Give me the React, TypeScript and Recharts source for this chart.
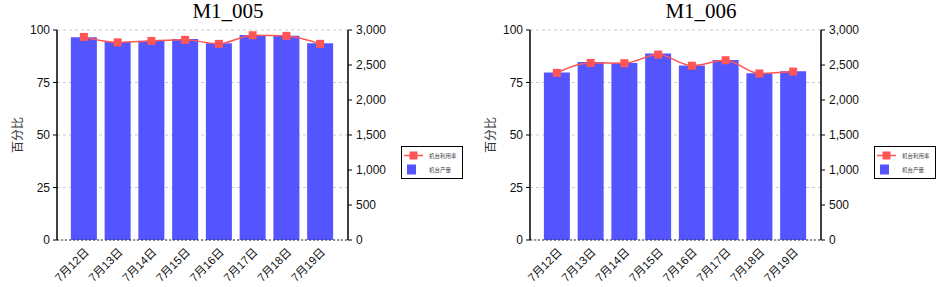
import React from 'react';
import { ComposedChart, Bar, Line, XAxis, YAxis, CartesianGrid, Legend } from 'recharts';

const categories = ['7月12日', '7月13日', '7月14日', '7月15日', '7月16日', '7月17日', '7月18日', '7月19日'];
const leftTicks = [0, 25, 50, 75, 100];
const rightTicks = [0, 500, 1000, 1500, 2000, 2500, 3000];

const m005Output = [2896, 2829, 2848, 2872, 2810, 2929, 2919, 2810];
const m005Rate = [96.7, 94.1, 94.8, 95.3, 93.4, 97.5, 97.2, 93.4];
const m006Output = [2392, 2544, 2530, 2663, 2492, 2573, 2383, 2411];
const m006Rate = [79.6, 84.3, 84.2, 88.3, 83.0, 85.6, 79.3, 80.2];

const BAR_COLOR = '#5555ff';
const LINE_COLOR = '#ff5555';

const buildRows = (output: number[], rate: number[]) =>
  categories.map((c, i) => ({ day: c, output: output[i], rate: rate[i] }));

const SquareDot = (props: any) => {
  const { cx, cy, index } = props;
  if (cx == null || cy == null) return null;
  return <rect key={`d${index}`} x={cx - 4} y={cy - 4} width={8} height={8} fill={LINE_COLOR} />;
};

const LegendBox = () => (
  <div
    style={{
      width: 60,
      height: 31,
      border: '1px solid #000',
      background: '#fff',
      boxSizing: 'content-box',
      fontFamily: '"Noto Sans CJK SC", sans-serif',
      fontSize: 5.5,
      color: '#444',
      position: 'relative',
    }}
  >
    <svg width={60} height={31} style={{ position: 'absolute', left: 0, top: 0 }}>
      <line x1={2} y1={8.5} x2={21} y2={8.5} stroke={LINE_COLOR} strokeWidth={1.5} />
      <rect x={7.5} y={4.5} width={8} height={8} fill={LINE_COLOR} />
      <text x={27} y={10.5} fontSize={5.5} fill="#444">机台利用率</text>
      <rect x={5} y={17.5} width={9} height={10} fill={BAR_COLOR} />
      <text x={27} y={24.5} fontSize={5.5} fill="#444">机台产量</text>
    </svg>
  </div>
);

const YLabel = (props: any) => {
  const vb = props.viewBox || {};
  const cy = (vb.y || 0) + (vb.height || 0) / 2;
  return (
    <text
      x={16}
      y={cy}
      transform={`rotate(-90, 16, ${cy})`}
      textAnchor="middle"
      dominantBaseline="central"
      fontSize={12}
      fill="#333"
      fontFamily='"Noto Sans CJK SC", sans-serif'
    >
      百分比
    </text>
  );
};

const tickStyle = { fontSize: 12, fill: '#111', fontFamily: '"Liberation Sans", Arial, sans-serif' };

const MachineChart = ({ title, output, rate }: { title: string; output: number[]; rate: number[] }) => {
  const data = buildRows(output, rate);
  return (
    <div style={{ position: 'relative', width: 470, height: 287 }}>
      <div
        style={{
          position: 'absolute',
          left: 0,
          top: 1,
          width: 456,
          textAlign: 'center',
          fontFamily: '"Liberation Serif", serif',
          fontSize: 21,
          lineHeight: '21px',
          color: '#000',
        }}
      >
        {title}
      </div>
      <ComposedChart
        width={470}
        height={287}
        data={data}
        margin={{ top: 30, right: 72, bottom: 0, left: 0 }}
        barCategoryGap="11.5%"
      >
        <CartesianGrid yAxisId="left" horizontal vertical={false} stroke="#cccccc" strokeDasharray="3 3" />
        <XAxis
          dataKey="day"
          height={47}
          padding={{ left: 10, right: 11 }}
          tickLine={false}
          tickSize={5}
          tickMargin={2}
          axisLine={{ stroke: '#333', strokeDasharray: '2 2' }}
          angle={-45}
          textAnchor="end"
          interval={0}
          tick={{ ...tickStyle, fontSize: 11.5, fontFamily: '"Liberation Sans", "Noto Sans CJK SC", sans-serif' }}
        />
        <YAxis
          yAxisId="left"
          width={57}
          domain={[0, 100]}
          ticks={leftTicks}
          tickSize={4}
          tickMargin={3}
          axisLine={{ stroke: '#000', strokeWidth: 1.5 }}
          tickLine={{ stroke: '#000' }}
          tick={tickStyle}
          label={<YLabel />}
        />
        <YAxis
          yAxisId="right"
          orientation="right"
          width={50}
          domain={[0, 3000]}
          ticks={rightTicks}
          tickSize={4}
          tickMargin={4}
          axisLine={{ stroke: '#000', strokeWidth: 1.5 }}
          tickLine={{ stroke: '#000' }}
          tick={tickStyle}
          tickFormatter={(v: number) => v.toLocaleString('en-US')}
        />
        <Bar yAxisId="right" dataKey="output" name="机台产量" fill={BAR_COLOR} isAnimationActive={false} />
        <Line
          yAxisId="left"
          type="monotone"
          dataKey="rate"
          name="机台利用率"
          stroke={LINE_COLOR}
          strokeWidth={1.5}
          dot={SquareDot}
          activeDot={false}
          isAnimationActive={false}
        />
        <Legend
          layout="vertical"
          align="center"
          verticalAlign="middle"
          content={<LegendBox />}
          wrapperStyle={{ left: 401, top: 146, width: 62, height: 33 }}
        />
      </ComposedChart>
    </div>
  );
}

export default function App() {
  return (
    <div style={{ position: 'absolute', left: 0, top: 0, width: 940, height: 287, background: '#fff' }}>
      <div style={{ position: 'absolute', left: 0, top: 0 }}>
        <MachineChart title="M1_005" output={m005Output} rate={m005Rate} />
      </div>
      <div style={{ position: 'absolute', left: 473, top: 0 }}>
        <MachineChart title="M1_006" output={m006Output} rate={m006Rate} />
      </div>
    </div>
  );
}
